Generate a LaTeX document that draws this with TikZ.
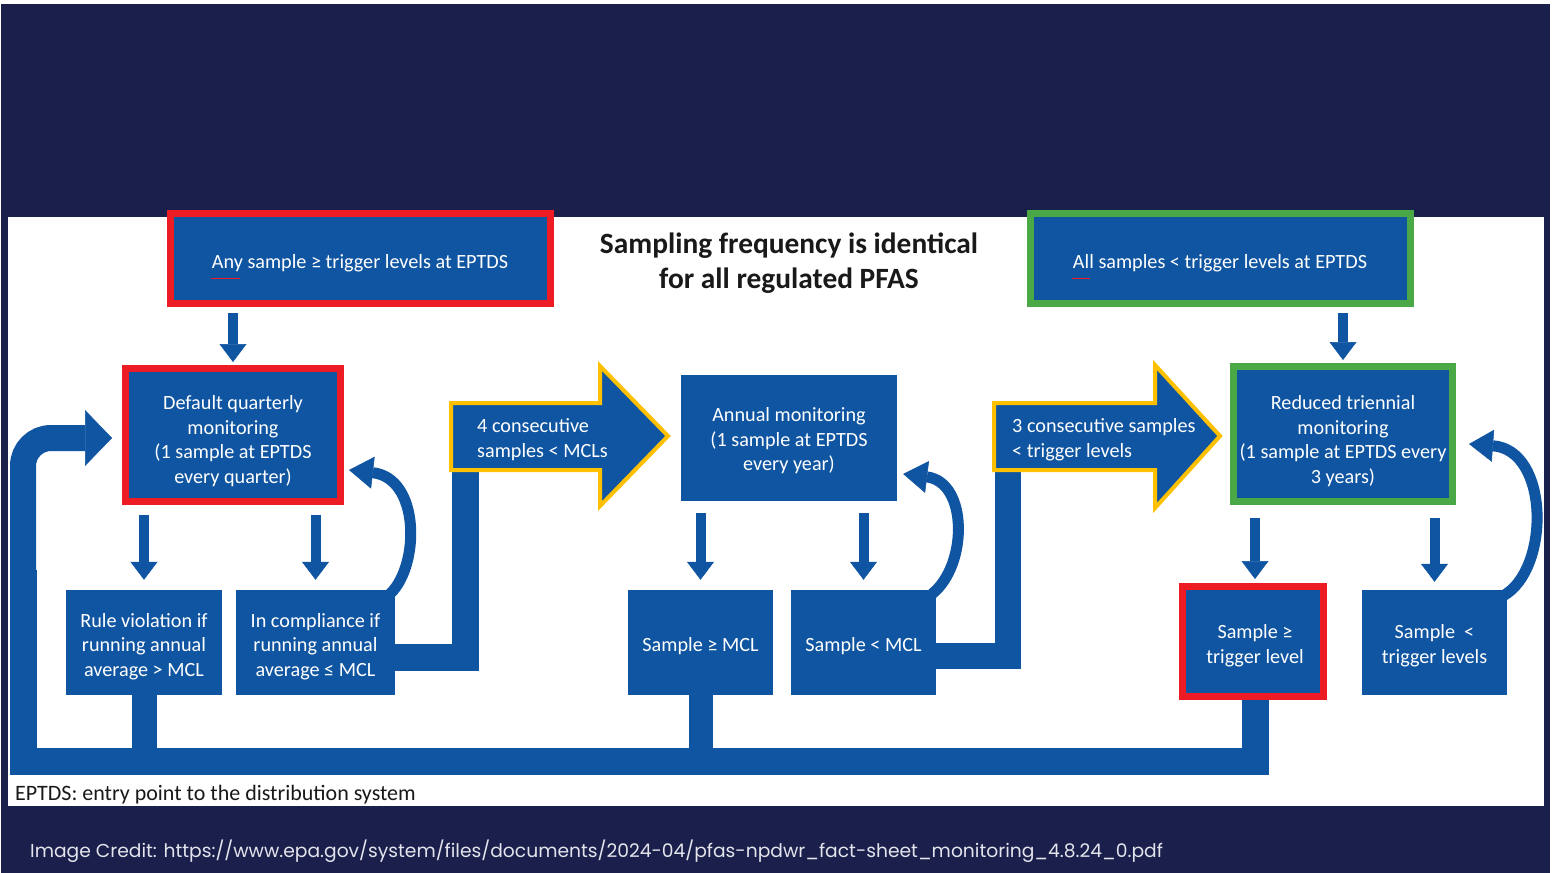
\documentclass[tikz,border=0pt]{standalone}
\usepackage{fontspec}
\setmainfont{Carlito}
\newfontfamily\credfont{Poppins}
\usetikzlibrary{arrows.meta}
\definecolor{navy}{HTML}{1A1F4B}
\definecolor{boxblue}{HTML}{1055A1}
\definecolor{redb}{HTML}{ED1C24}
\definecolor{greenb}{HTML}{4BA847}
\definecolor{orangeb}{HTML}{FFC000}
\definecolor{credgray}{HTML}{E4E4EC}
\begin{document}
\begin{tikzpicture}[x=1pt,y=-1pt,
  box/.style={rectangle, fill=boxblue, inner sep=0pt},
  boxtext/.style={text=white, align=center, inner sep=0pt,
    font=\fontsize{20.2}{24.5}\selectfont},
  redframe/.style={draw=redb, line width=7pt},
  greenframe/.style={draw=greenb, line width=7pt},
  band/.style={draw=boxblue, line width=26pt},
  dnarrow/.style={draw=boxblue, line width=10pt,
    -{Triangle[width=27pt,length=18pt,line width=0.5pt]}},
  curvarrow/.style={draw=boxblue, line width=11pt,
    -{Triangle[width=32pt,length=24pt,line width=0.5pt]}},
  blockarrow/.style={fill=boxblue, draw=orangeb, line width=4pt, line join=miter},
  arrowtext/.style={anchor=west, align=left, text=white, inner sep=0pt,
    font=\fontsize{20.2}{24.5}\selectfont},
]
% background and panel
\useasboundingbox (0,0) rectangle (1556,873);
\fill[white] (0,0) rectangle (1556,873);
\fill[navy] (1,4) rectangle (1550,873);
\fill[white] (8,217) rectangle (1544,806);

% boxes
\node[box, redframe, minimum width=380pt, minimum height=90pt] (any) at (360,258.5) {};
\node[box, greenframe, minimum width=380pt, minimum height=90pt] (all) at (1220,258.5) {};
\node[box, redframe, minimum width=215pt, minimum height=133pt] (def) at (233,435) {};
\node[box, minimum width=216pt, minimum height=126pt] (ann) at (789,438) {};
\node[box, greenframe, minimum width=219pt, minimum height=135pt] (red) at (1343,434) {};
\node[box, minimum width=156pt, minimum height=105pt] (rv) at (144,642.5) {};
\node[box, minimum width=159pt, minimum height=105pt] (ic) at (315.5,642.5) {};
\node[box, minimum width=145pt, minimum height=105pt] (sgemcl) at (700.5,642.5) {};
\node[box, minimum width=145pt, minimum height=105pt] (sltmcl) at (863.5,642.5) {};
\node[box, minimum width=145pt, minimum height=105pt] (slttrig) at (1434.5,642.5) {};

% thick connector bands (drawn beneath)
\coordinate (loopy) at (0,761);
\coordinate (c4b) at (465,468);
\coordinate (c3b) at (1008,468);
\draw[band, line width=27pt] ([shift={(0,14.5)}]ic.east) -- (c4b |- 0,657) -- (c4b);
\draw[band, line width=26pt] ([shift={(0,13.5)}]sltmcl.east) -- (c3b |- 0,656) -- (c3b);
\draw[band, line width=25pt] (rv.south) -- (rv.south |- loopy);
\draw[band, line width=24pt] (sgemcl.south) -- (sgemcl.south |- loopy);
\draw[band, line width=27pt] (1255,690) -- (1255,761) -- (23,761) -- (23,570);
\draw[band, line width=26pt, rounded corners=28pt,
  -{Triangle[width=56pt,length=27pt,line width=0.5pt]}]
  (23,580) -- (23,438) -- ([shift={(-10,3)}]def.west);

% red framed sample box (over its stem)
\node[box, redframe, minimum width=141pt, minimum height=110pt] (sgetrig) at (1253,641.5) {};

% block arrows
\path[blockarrow] (451,403) -- (600,403) -- (600,366) -- (668,436) -- (600,506)
  -- (600,470) -- (451,470) -- cycle;
\node[arrowtext] (c4) at (477,439.5) {4 consecutive\\samples < MCLs};
\path[blockarrow] (994,403) -- (1155,403) -- (1155,365) -- (1220,436) -- (1155,508)
  -- (1155,470) -- (994,470) -- cycle;
\node[arrowtext] (c3) at (1012,439.5) {3 consecutive samples\\< trigger levels};

% box texts
\node[boxtext] (anyt) at ([shift={(0,5)}]any.center) {Any sample ≥ trigger levels at EPTDS};
\node[boxtext] (allt) at ([shift={(0,5)}]all.center) {All samples < trigger levels at EPTDS};
\node[boxtext] (deft) at ([shift={(0,6)}]def.center) {Default quarterly\\monitoring\\(1 sample at EPTDS\\every quarter)};
\node[boxtext] (annt) at ([shift={(0,3)}]ann.center) {Annual monitoring\\(1 sample at EPTDS\\every year)};
\node[boxtext] (redt) at ([shift={(0,7)}]red.center) {Reduced triennial\\monitoring\\(1 sample at EPTDS every\\3 years)};
\node[boxtext] (rvt) at ([shift={(0,4)}]rv.center) {Rule violation if\\running annual\\average > MCL};
\node[boxtext] (ict) at ([shift={(0,4)}]ic.center) {In compliance if\\running annual\\average ≤ MCL};
\node[boxtext] (sgemclt) at ([shift={(0,4)}]sgemcl.center) {Sample ≥ MCL};
\node[boxtext] (sltmclt) at ([shift={(0,4)}]sltmcl.center) {Sample < MCL};
\node[boxtext] (sgetrigt) at ([shift={(2,4)}]sgetrig.center) {Sample ≥\\trigger level};
\node[boxtext] (slttrigt) at ([shift={(0,3)}]slttrig.center) {Sample~~<\\trigger levels};

% straight down arrows
\draw[dnarrow, shorten <=6pt, shorten >=3pt] (def.north |- any.south) -- (def.north);
\draw[dnarrow, shorten <=10pt, shorten >=10pt] (rv.north |- def.south) -- (rv.north);
\draw[dnarrow, shorten <=10pt, shorten >=10pt] (ic.north |- def.south) -- (ic.north);
\draw[dnarrow, shorten <=12pt, shorten >=10pt] (sgemcl.north |- ann.south) -- (sgemcl.north);
\draw[dnarrow, shorten <=12pt, shorten >=10pt] (sltmcl.north |- ann.south) -- (sltmcl.north);
\draw[dnarrow, shorten <=6pt, shorten >=3pt] (red.north |- all.south) -- (red.north);
\draw[dnarrow, shorten <=13pt, shorten >=4pt] ([shift={(2,0)}]sgetrig.north |- red.south) -- ([shift={(2,0)}]sgetrig.north);
\draw[dnarrow, shorten <=13pt, shorten >=8pt] (slttrig.north |- red.south) -- (slttrig.north);

% curved return arrows
\draw[curvarrow] ([shift={(-5,4)}]ic.north east) .. controls (420,565) and (420,478) .. ([shift={(5,35)}]def.east);
\draw[curvarrow] ([shift={(-4,4)}]sltmcl.north east) .. controls (968,565) and (968,482) .. ([shift={(6,36)}]ann.east);
\draw[curvarrow] ([shift={(-4,6)}]slttrig.north east) .. controls (1550,570) and (1550,450) .. ([shift={(13,10)}]red.east);

% spell-check underlines
\draw[redb, line width=1pt] (211,278) -- (240,278);
\draw[redb, line width=1pt] (1072,278) -- (1090,278);

% texts
\node[align=center, inner sep=0pt, text=black!90,
  font=\bfseries\fontsize{29.4}{35}\selectfont] (title) at (789,263)
  {Sampling frequency is identical\\for all regulated PFAS};
\node[anchor=west, inner sep=0pt, text=black!90, font=\fontsize{22}{24}\selectfont] (note) at (15,795)
  {EPTDS: entry point to the distribution system};
\node[anchor=west, inner sep=0pt, text=credgray, font=\credfont\fontsize{18.7}{20}\selectfont] (credit) at (30,851)
  {Image Credit: https://www.epa.gov/system/files/documents/2024-04/pfas-npdwr\_fact-sheet\_monitoring\_4.8.24\_0.pdf};
\end{tikzpicture}
\end{document}
